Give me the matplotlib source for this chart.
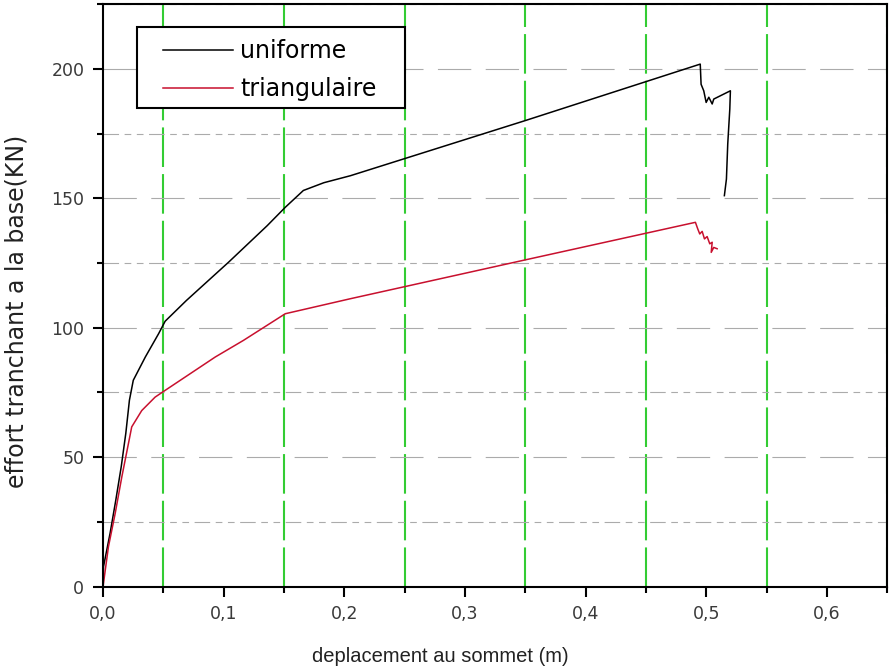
import numpy as np
import matplotlib.pyplot as plt
import matplotlib.patches as mpatches
from matplotlib.ticker import MultipleLocator, FuncFormatter

plt.rcParams['font.family'] = ['DejaVu Sans']

# courbe de capacite - chargement uniforme
uni_x = [0.0, 0.0003, 0.0058, 0.0105, 0.015, 0.0188, 0.0218, 0.025, 0.035, 0.046,
         0.0514, 0.069, 0.104, 0.136, 0.151, 0.166, 0.183, 0.205, 0.35, 0.495,
         0.4957, 0.4979, 0.4999, 0.5021, 0.5049, 0.5062, 0.52, 0.5195, 0.5178,
         0.5167, 0.515]
uni_y = [0.0, 7.7, 20.7, 33.4, 46.3, 59.2, 72.0, 79.7, 88.7, 97.7,
         102.5, 110.5, 125.3, 139.4, 146.5, 153.0, 156.0, 158.7, 180.0, 201.8,
         194.0, 191.5, 187.0, 189.0, 186.4, 188.3, 191.5, 184.4, 171.0,
         157.4, 151.0]

# courbe de capacite - chargement triangulaire
tri_x = [0.0, 0.0003, 0.0044, 0.01, 0.0155, 0.021, 0.0237, 0.032, 0.0431, 0.0514,
         0.093, 0.1163, 0.151, 0.205, 0.35, 0.491, 0.4929, 0.4946, 0.4966, 0.4985,
         0.5007, 0.5029, 0.5049, 0.5041, 0.5062, 0.509]
tri_y = [0.0, 1.3, 15.4, 28.3, 42.4, 55.3, 61.7, 68.0, 73.2, 75.8,
         88.7, 95.1, 105.4, 111.2, 126.2, 140.7, 138.2, 136.2, 137.2, 134.3,
         135.2, 132.4, 133.0, 129.1, 131.0, 130.5]

fig = plt.figure(figsize=(8.89, 6.72), dpi=100)
ax = fig.add_axes([0.116, 0.127, 0.882, 0.867])

ax.set_xlim(0, 0.65)
ax.set_ylim(0, 225)

ax.xaxis.set_major_locator(MultipleLocator(0.1))
ax.xaxis.set_minor_locator(MultipleLocator(0.05))
ax.yaxis.set_major_locator(MultipleLocator(50))
ax.yaxis.set_minor_locator(MultipleLocator(25))
ax.xaxis.set_major_formatter(FuncFormatter(lambda v, p: f'{v:.1f}'.replace('.', ',')))
ax.yaxis.set_major_formatter(FuncFormatter(lambda v, p: f'{v:.0f}'))

# grille : gris tirets (majeur), gris tiret-points (mineur), verticales vertes
ax.grid(which='major', axis='y', color='#ababab', lw=0.8, ls=(0, (30, 13)))
ax.grid(which='minor', axis='y', color='#ababab', lw=0.8, ls=(0, (14, 5, 6, 5, 6, 5)))
ax.grid(which='minor', axis='x', color='#33cc33', lw=1.5, ls=(0, (19, 3.4)))
ax.grid(which='major', axis='x', visible=False)
ax.set_axisbelow(True)

l1, = ax.plot(uni_x, uni_y, color='black', lw=1.1, label='uniforme')
l2, = ax.plot(tri_x, tri_y, color='#c8102e', lw=1.1, label='triangulaire')

for s in ax.spines.values():
    s.set_linewidth(1.5)
ax.tick_params(which='major', direction='out', length=7.5, width=1.5,
               labelsize=12.5, labelcolor='#3a3a3a', pad=6)
ax.tick_params(which='minor', direction='out', length=4, width=1.5)

ax.set_xlabel('deplacement au sommet (m)', fontsize=14.5, color='#222222', va='center',
              family=['Liberation Sans', 'DejaVu Sans'])
ax.xaxis.set_label_coords(0.43, -0.12)
ax.set_ylabel('effort tranchant a la base(KN)', fontsize=17, color='#222222', va='center')
ax.yaxis.set_label_coords(-0.11, 0.472)

# cadre de la legende, dessine a part pour garder des marges larges
frame = mpatches.Rectangle((0.0434, 0.8216), 0.342, 0.139, transform=ax.transAxes,
                           facecolor='white', edgecolor='black', lw=1.5, zorder=4)
ax.add_patch(frame)
leg = ax.legend(handles=[l1, l2], loc='upper left', bbox_to_anchor=(0.0765, 0.940),
                fontsize=17, frameon=False, handlelength=2.97, handletextpad=0.3,
                borderpad=0, labelspacing=0.6, borderaxespad=0)
leg.set_zorder(5)

fig.savefig('out.png', dpi=100)
